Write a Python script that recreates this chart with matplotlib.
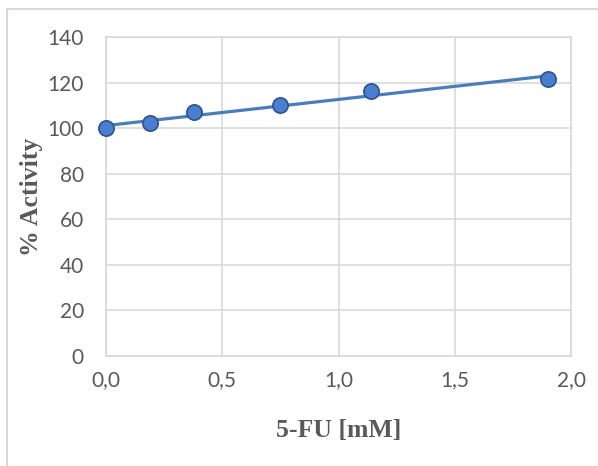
import numpy as np
import matplotlib
matplotlib.use("Agg")
from matplotlib import pyplot as plt
from matplotlib.ticker import FuncFormatter
from matplotlib.patches import Rectangle

# --- Datos ---
conc_mM = [0.0, 0.19, 0.38, 0.75, 1.14, 1.90]
activity = [100.0, 102.2, 107.0, 110.0, 116.1, 121.5]

x_ticks = [0.0, 0.5, 1.0, 1.5, 2.0]
y_ticks = [0, 20, 40, 60, 80, 100, 120, 140]

grey_txt = '#595959'
grid_col = '#d9d9d9'
blue = '#4a7ebb'

fig = plt.figure(figsize=(5.98, 4.66), dpi=100)
ax = fig.add_axes([106 / 598, 1 - 356 / 466, (571 - 106) / 598, (356 - 37) / 466])

# línea de tendencia lineal (como en Excel)
slope, inter = np.polyfit(conc_mM, activity, 1)
xt = np.array([min(conc_mM), max(conc_mM)])
ax.plot(xt, slope * xt + inter, color=blue, lw=2.3, zorder=3, solid_capstyle='butt')

ax.plot(conc_mM, activity, 'o', ms=11, mfc='#4a7fcf', mec='#2f528f', mew=1.2,
        zorder=4, clip_on=False)

ax.set_xlim(0, 2)
ax.set_ylim(0, 140)
ax.set_xticks(x_ticks)
ax.set_yticks(y_ticks)
ax.xaxis.set_major_formatter(FuncFormatter(lambda v, p: f'{v:.1f}'.replace('.', ',')))
ax.grid(True, color=grid_col, lw=1.2)
ax.set_axisbelow(True)
for s in ax.spines.values():
    s.set_color(grid_col)
    s.set_linewidth(1.2)
ax.tick_params(length=0, labelsize=15, colors=grey_txt)
ax.tick_params(axis='y', pad=16)
ax.tick_params(axis='x', pad=10)
for lab in ax.get_xticklabels() + ax.get_yticklabels():
    lab.set_fontfamily('Lato')

ax.set_xlabel('5-FU [mM]', fontfamily='Liberation Serif', fontweight='bold',
              fontsize=18.5, color=grey_txt, labelpad=21)
ax.set_ylabel('% Activity', fontfamily='Liberation Serif', fontweight='bold',
              fontsize=18.5, color=grey_txt, labelpad=3)

# borde exterior del área del gráfico
fig.patches.append(Rectangle((7 / 598, -0.1), 1.2, 1 - 9 / 466 + 0.1,
                             transform=fig.transFigure, fill=False,
                             edgecolor=grid_col, lw=1.5))

fig.savefig('out.png', dpi=100)
